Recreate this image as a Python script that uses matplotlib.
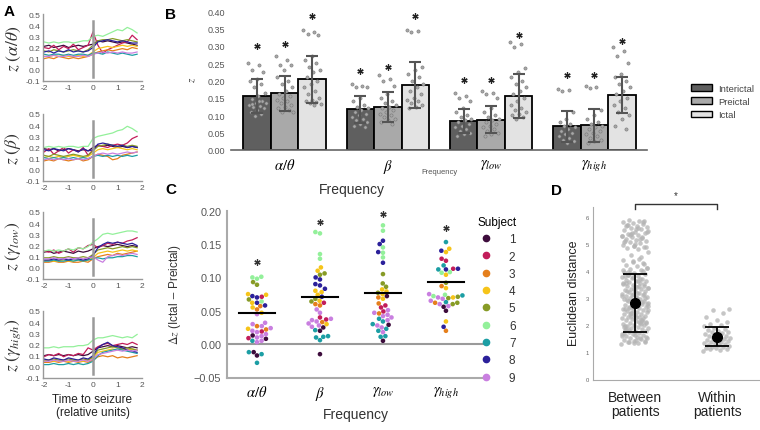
import numpy as np
import pandas as pd
import matplotlib
matplotlib.use("Agg")
import matplotlib.pyplot as plt
from matplotlib.lines import Line2D
from matplotlib.patches import Patch
import seaborn as sns

plt.rcParams['font.family'] = ['Liberation Sans', 'DejaVu Sans']
plt.rcParams['mathtext.fontset'] = 'stix'

# ---------------- data ----------------
subj_colors = ['#3d0c3c', '#c21d5a', '#e57f1c', '#f6c419', '#879b26',
               '#93f09a', '#1c9ea4', '#2b209a', '#c97fe0']
subjects = ['1', '2', '3', '4', '5', '6', '7', '8', '9']

# panel A: mean z per subject over time to seizure
t = [-2.0, -1.8, -1.6, -1.4, -1.2, -1.0, -0.8, -0.6, -0.4, -0.2,
     0.0, 0.2, 0.4, 0.6, 0.8, 1.0, 1.2, 1.4, 1.6, 1.8]

z_alpha = [
    [0.21,0.22,0.20,0.21,0.22,0.20,0.21,0.22,0.21,0.22,0.23,0.26,0.25,0.26,0.25,0.24,0.25,0.24,0.23,0.22],
    [0.20,0.19,0.22,0.18,0.21,0.19,0.23,0.18,0.20,0.22,0.34,0.22,0.15,0.18,0.20,0.22,0.24,0.25,0.31,0.27],
    [0.10,0.11,0.10,0.12,0.11,0.10,0.11,0.10,0.11,0.12,0.14,0.16,0.17,0.18,0.17,0.18,0.19,0.18,0.20,0.19],
    [0.12,0.12,0.13,0.12,0.13,0.12,0.12,0.13,0.12,0.13,0.16,0.19,0.20,0.21,0.20,0.21,0.22,0.21,0.22,0.21],
    [0.17,0.16,0.18,0.17,0.16,0.17,0.18,0.17,0.16,0.18,0.22,0.26,0.27,0.27,0.28,0.27,0.26,0.27,0.26,0.25],
    [0.25,0.24,0.25,0.24,0.25,0.25,0.24,0.25,0.26,0.26,0.30,0.31,0.30,0.32,0.34,0.36,0.35,0.38,0.36,0.33],
    [0.14,0.13,0.14,0.14,0.13,0.14,0.13,0.14,0.14,0.13,0.15,0.15,0.14,0.16,0.15,0.14,0.15,0.14,0.13,0.14],
    [0.16,0.17,0.15,0.17,0.16,0.18,0.16,0.17,0.16,0.17,0.20,0.25,0.26,0.27,0.26,0.25,0.26,0.25,0.24,0.24],
    [0.12,0.12,0.13,0.12,0.12,0.13,0.12,0.12,0.13,0.12,0.14,0.15,0.16,0.15,0.16,0.15,0.16,0.15,0.15,0.16],
]
z_beta = [
    [0.19,0.18,0.19,0.17,0.18,0.19,0.18,0.17,0.18,0.17,0.20,0.22,0.21,0.22,0.21,0.20,0.21,0.20,0.21,0.20],
    [0.16,0.19,0.14,0.17,0.20,0.15,0.18,0.16,0.20,0.13,0.18,0.22,0.21,0.20,0.22,0.23,0.22,0.24,0.28,0.30],
    [0.08,0.09,0.08,0.10,0.09,0.08,0.09,0.10,0.08,0.09,0.12,0.14,0.13,0.12,0.09,0.10,0.13,0.14,0.15,0.16],
    [0.11,0.12,0.11,0.12,0.11,0.12,0.13,0.12,0.11,0.12,0.15,0.18,0.19,0.18,0.19,0.20,0.19,0.18,0.19,0.18],
    [0.13,0.12,0.14,0.13,0.12,0.13,0.14,0.13,0.12,0.13,0.17,0.21,0.22,0.23,0.22,0.21,0.22,0.21,0.22,0.21],
    [0.20,0.21,0.20,0.21,0.20,0.21,0.21,0.20,0.21,0.21,0.28,0.30,0.31,0.32,0.33,0.35,0.36,0.39,0.37,0.34],
    [0.11,0.10,0.11,0.10,0.11,0.10,0.11,0.10,0.11,0.10,0.12,0.13,0.12,0.13,0.12,0.13,0.12,0.13,0.12,0.13],
    [0.18,0.17,0.19,0.18,0.17,0.19,0.18,0.16,0.19,0.17,0.18,0.23,0.24,0.23,0.22,0.21,0.22,0.20,0.21,0.20],
    [0.09,0.10,0.09,0.10,0.09,0.10,0.09,0.10,0.09,0.10,0.12,0.14,0.15,0.14,0.15,0.14,0.15,0.16,0.15,0.16],
]
z_glow = [
    [0.14,0.15,0.13,0.14,0.15,0.14,0.13,0.15,0.14,0.15,0.17,0.19,0.20,0.19,0.20,0.21,0.20,0.19,0.20,0.19],
    [0.15,0.14,0.16,0.13,0.15,0.17,0.14,0.18,0.17,0.20,0.21,0.18,0.20,0.22,0.21,0.23,0.22,0.24,0.25,0.27],
    [0.05,0.05,0.06,0.05,0.05,0.06,0.05,0.05,0.06,0.05,0.08,0.10,0.11,0.12,0.11,0.13,0.12,0.13,0.14,0.15],
    [0.06,0.07,0.06,0.06,0.07,0.06,0.06,0.07,0.06,0.07,0.09,0.13,0.14,0.15,0.14,0.15,0.16,0.15,0.16,0.15],
    [0.09,0.09,0.10,0.09,0.09,0.10,0.09,0.09,0.10,0.09,0.12,0.16,0.17,0.18,0.17,0.18,0.19,0.18,0.19,0.18],
    [0.15,0.16,0.15,0.16,0.15,0.17,0.16,0.18,0.17,0.19,0.23,0.26,0.30,0.31,0.30,0.31,0.32,0.33,0.33,0.32],
    [0.06,0.06,0.07,0.06,0.06,0.07,0.06,0.07,0.06,0.07,0.08,0.09,0.08,0.09,0.09,0.10,0.10,0.11,0.11,0.10],
    [0.07,0.07,0.08,0.07,0.08,0.07,0.08,0.08,0.07,0.08,0.11,0.18,0.21,0.23,0.22,0.23,0.22,0.21,0.22,0.20],
    [0.08,0.08,0.09,0.08,0.08,0.09,0.08,0.09,0.08,0.09,0.10,0.07,0.05,0.10,0.11,0.12,0.11,0.12,0.13,0.12],
]
z_ghigh = [
    [0.10,0.11,0.10,0.11,0.10,0.11,0.10,0.11,0.10,0.11,0.14,0.17,0.18,0.19,0.18,0.19,0.18,0.17,0.18,0.17],
    [0.09,0.11,0.10,0.12,0.09,0.11,0.10,0.12,0.11,0.17,0.15,0.18,0.20,0.21,0.19,0.20,0.21,0.20,0.22,0.20],
    [0.04,0.04,0.05,0.04,0.05,0.04,0.05,0.04,0.05,0.04,0.06,0.09,0.10,0.09,0.10,0.08,0.09,0.08,0.09,0.10],
    [0.05,0.06,0.05,0.05,0.06,0.05,0.06,0.05,0.05,0.06,0.08,0.13,0.14,0.15,0.16,0.15,0.16,0.15,0.16,0.15],
    [0.06,0.06,0.07,0.06,0.06,0.07,0.06,0.06,0.07,0.06,0.09,0.15,0.16,0.17,0.18,0.17,0.16,0.17,0.16,0.15],
    [0.17,0.17,0.18,0.17,0.18,0.18,0.18,0.19,0.19,0.20,0.24,0.26,0.26,0.27,0.28,0.27,0.26,0.27,0.26,0.29],
    [0.02,0.02,0.03,0.02,0.02,0.03,0.02,0.03,0.02,0.03,0.05,0.10,0.13,0.14,0.15,0.16,0.15,0.14,0.13,0.12],
    [0.07,0.06,0.08,0.07,0.06,0.08,0.07,0.06,0.08,0.07,0.10,0.17,0.20,0.22,0.19,0.18,0.17,0.15,0.14,0.13],
    [0.05,0.05,0.06,0.05,0.05,0.06,0.05,0.05,0.06,0.05,0.07,0.11,0.12,0.13,0.14,0.15,0.14,0.15,0.14,0.15],
]
a_labels = [r'$z\ (\alpha/\theta)$', r'$z\ (\beta)$', r'$z\ (\gamma_{low})$', r'$z\ (\gamma_{high})$']

# panel B: bars (mean, sd) and individual values
bands = [r'$\alpha/\theta$', r'$\beta$', r'$\gamma_{low}$', r'$\gamma_{high}$']
phases = ['Interictal', 'Preictal', 'Ictal']
phase_colors = ['#5f5f5f', '#a9a9a9', '#e3e3e3']
b_mean = [[0.155, 0.163, 0.203], [0.117, 0.124, 0.187],
          [0.084, 0.087, 0.156], [0.068, 0.071, 0.158]]
b_sd = [[0.049, 0.050, 0.068], [0.039, 0.044, 0.065],
        [0.034, 0.039, 0.063], [0.045, 0.047, 0.051]]
b_star = [[0.300, 0.305, 0.385], [0.228, 0.238, 0.385],
          [0.201, 0.201, 0.332], [0.217, 0.217, 0.315]]
b_points = [
    [[0.25, 0.245, 0.23, 0.225, 0.205, 0.20, 0.19, 0.18, 0.165, 0.155, 0.148, 0.14, 0.135, 0.13, 0.128, 0.125, 0.12, 0.115, 0.11, 0.105, 0.098, 0.135, 0.14, 0.132],
     [0.27, 0.26, 0.245, 0.245, 0.23, 0.21, 0.20, 0.19, 0.18, 0.17, 0.16, 0.155, 0.15, 0.145, 0.14, 0.135, 0.13, 0.125, 0.12, 0.115, 0.11, 0.108],
     [0.345, 0.34, 0.335, 0.33, 0.27, 0.26, 0.25, 0.24, 0.23, 0.225, 0.21, 0.20, 0.19, 0.18, 0.17, 0.16, 0.15, 0.145, 0.14, 0.138, 0.135, 0.132, 0.13]],
    [[0.19, 0.185, 0.18, 0.18, 0.15, 0.14, 0.13, 0.125, 0.12, 0.115, 0.11, 0.105, 0.10, 0.095, 0.09, 0.085, 0.08, 0.075, 0.07, 0.065],
     [0.215, 0.205, 0.20, 0.185, 0.16, 0.15, 0.14, 0.135, 0.13, 0.125, 0.12, 0.115, 0.11, 0.105, 0.10, 0.095, 0.09, 0.085, 0.08, 0.075],
     [0.345, 0.342, 0.34, 0.24, 0.23, 0.22, 0.21, 0.20, 0.19, 0.18, 0.17, 0.16, 0.15, 0.145, 0.14, 0.135, 0.13, 0.125, 0.12]],
    [[0.165, 0.155, 0.15, 0.14, 0.12, 0.11, 0.10, 0.095, 0.09, 0.085, 0.08, 0.075, 0.07, 0.065, 0.06, 0.055, 0.05, 0.045, 0.04],
     [0.17, 0.165, 0.16, 0.15, 0.12, 0.11, 0.10, 0.095, 0.09, 0.085, 0.08, 0.075, 0.07, 0.065, 0.06, 0.055, 0.05, 0.045, 0.04],
     [0.31, 0.305, 0.295, 0.235, 0.225, 0.21, 0.20, 0.19, 0.18, 0.17, 0.16, 0.15, 0.14, 0.13, 0.12, 0.115, 0.11, 0.105, 0.10, 0.095, 0.09]],
    [[0.175, 0.172, 0.17, 0.11, 0.09, 0.08, 0.075, 0.07, 0.065, 0.06, 0.055, 0.05, 0.045, 0.04, 0.035, 0.03, 0.025, 0.02],
     [0.185, 0.18, 0.178, 0.115, 0.10, 0.09, 0.08, 0.075, 0.07, 0.065, 0.06, 0.055, 0.05, 0.045, 0.04, 0.035, 0.03, 0.025, 0.02],
     [0.295, 0.285, 0.27, 0.25, 0.22, 0.21, 0.20, 0.19, 0.18, 0.17, 0.16, 0.15, 0.14, 0.13, 0.12, 0.11, 0.10, 0.09, 0.07, 0.06]],
]

# panel C: delta z (ictal - preictal) per subject and band
c_vals = {
    0: {'1': [0.013, 0.008, -0.017, -0.012], '2': [0.071, 0.009, 0.019],
        '3': [0.057, 0.027, 0.022, 0.052], '4': [0.075, 0.074, 0.062, 0.055, 0.023, 0.047],
        '5': [0.093, 0.089, 0.067], '6': [0.101, 0.100, 0.098, 0.064],
        '7': [-0.012, -0.015, -0.028, 0.005], '8': [0.072, 0.070, 0.062, 0.058],
        '9': [0.030, 0.027, 0.024, 0.020, 0.018, 0.015, 0.012, 0.010, 0.005, 0.003, 0.045, 0.032]},
    1: {'1': [-0.015, 0.025, 0.020], '2': [0.040, 0.037, 0.062],
        '3': [0.060, 0.058, 0.033], '4': [0.115, 0.110, 0.080, 0.078, 0.074, 0.065, 0.030],
        '5': [0.106, 0.104, 0.068, 0.064], '6': [0.168, 0.166, 0.135, 0.128],
        '7': [0.011, 0.010, 0.006, 0.021, 0.012], '8': [0.100, 0.097, 0.090, 0.088, 0.083, 0.071],
        '9': [0.038, 0.036, 0.034, 0.031, 0.028, 0.026, 0.052, 0.047]},
    2: {'1': [0.005, 0.029, 0.072], '2': [0.058, 0.055, 0.049],
        '3': [0.061, 0.046, 0.070], '4': [0.082, 0.079, 0.075, 0.068],
        '5': [0.105, 0.091, 0.086, 0.077], '6': [0.178, 0.170, 0.145, 0.137, 0.130],
        '7': [0.038, 0.034, 0.030, 0.020, 0.012, 0.011, 0.023], '8': [0.155, 0.150, 0.138, 0.122],
        '9': [0.047, 0.042, 0.040, 0.036, 0.028, 0.025, 0.018, 0.044, 0.051]},
    3: {'1': [0.056, 0.050], '2': [0.128, 0.125, 0.113],
        '3': [0.087, 0.062, 0.020], '4': [0.143, 0.138, 0.104, 0.084, 0.070, 0.034],
        '5': [0.092, 0.071, 0.069, 0.062, 0.060], '6': [0.108, 0.107, 0.074, 0.072],
        '7': [0.153, 0.118, 0.112, 0.073, 0.063], '8': [0.140, 0.113, 0.112, 0.026],
        '9': [0.075, 0.070, 0.068, 0.065, 0.060, 0.057]},
}
c_mean = [0.046, 0.070, 0.076, 0.093]
c_star = [0.123, 0.183, 0.195, 0.174]

# panel D: euclidean distances
d_between = [1.30, 1.33, 1.36, 1.38, 1.42, 1.44, 1.47, 1.51, 1.53, 1.57, 1.60, 1.62, 1.66, 1.68,
             1.71, 1.74, 1.77, 1.79, 1.82, 1.85, 1.88, 1.90, 1.93, 1.96, 1.99, 2.01, 2.04, 2.07,
             2.09, 2.12, 2.15, 2.17, 2.20, 2.23, 2.25, 2.28, 2.31, 2.33, 2.36, 2.39, 2.41, 2.44,
             2.47, 2.49, 2.52, 2.55, 2.57, 2.60, 2.63, 2.65, 2.68, 2.71, 2.73, 2.76, 2.79, 2.81,
             2.84, 2.87, 2.89, 2.92, 2.95, 2.97, 3.00, 3.03, 3.05, 3.08, 3.11, 3.13, 3.16, 3.19,
             3.21, 3.24, 3.27, 3.29, 3.32, 3.35, 3.37, 3.40, 3.43, 3.46, 3.49, 3.52, 3.55, 3.58,
             3.61, 3.64, 3.67, 3.71, 3.74, 3.78, 3.81, 3.85, 3.89, 3.93, 3.97, 4.02, 4.07, 4.12,
             4.17, 4.22, 4.28, 4.34, 4.41, 4.45, 1.35, 1.55, 1.75, 1.95, 2.14, 2.34, 2.54, 2.74,
             2.94, 3.14, 3.34, 3.54, 3.72, 3.92, 4.10, 1.46, 1.86, 2.26, 2.66, 3.06, 3.46, 3.86,
             1.40, 1.64, 1.91, 2.19, 2.44, 2.70, 2.98, 3.25, 3.51, 3.79, 4.05, 1.50, 1.81, 2.06,
             2.30, 2.58, 2.86, 3.10, 3.38, 3.63, 3.95, 4.25, 1.32, 1.69, 2.02, 2.39, 2.77, 3.18,
             3.57, 3.99, 4.38, 1.58, 2.11, 2.62, 3.01, 3.44, 3.83,
             4.52, 4.61, 4.70, 4.82, 4.86, 4.90, 4.94, 4.98, 5.02, 5.06, 5.10, 5.14, 5.18, 5.22,
             5.26, 5.30, 5.34, 5.38, 5.42, 5.46, 5.50, 5.54, 5.58, 5.62, 5.66, 5.70, 5.74, 5.78,
             5.82, 5.86, 5.90, 4.88, 5.00, 5.12, 5.24, 5.36, 5.48, 5.60, 5.72, 5.84, 4.92, 5.08,
             5.20, 5.32, 5.44, 5.56, 5.68, 5.80, 5.40, 5.28]
d_within = [1.05, 1.08, 1.10, 1.12, 1.14, 1.16, 1.18, 1.20, 1.22, 1.24, 1.26, 1.28, 1.30,
            1.32, 1.35, 1.37, 1.40, 1.42, 1.45, 1.47, 1.50, 1.52, 1.55, 1.58, 1.60, 1.63,
            1.66, 1.69, 1.72, 1.75, 1.78, 1.82, 1.86, 1.90, 1.95, 2.00, 2.05, 2.12, 2.20,
            2.30, 2.45, 2.55, 2.60]
d_groups = ['Between\npatients', 'Within\npatients']
d_mean = [2.81, 1.57]
d_low = [1.75, 1.21]
d_high = [3.87, 1.94]


def spread(n, width):
    # deterministic horizontal spread for strip points
    return (np.arange(n) * 0.6180339887 % 1 - 0.5) * width


fig = plt.figure(figsize=(7.6, 4.31), dpi=100)
W, H = 760.0, 431.0

# ---------------- panel A ----------------
a_bottoms = [82, 182, 280, 379]
a_data = [z_alpha, z_beta, z_glow, z_ghigh]
for i in range(4):
    ax = fig.add_axes([43 / W, 1 - a_bottoms[i] / H, 99 / W, 67 / H])
    for s in range(9):
        ax.plot(t, a_data[i][s], color=subj_colors[s], lw=0.9)
    ax.axvline(0, ymin=0.058, ymax=0.9, color='#9a9a9a', lw=1.8)
    ax.set_xlim(-2.04, 2.0)
    ax.set_ylim(-0.1, 0.5)
    ax.set_yticks([-0.1, 0.0, 0.1, 0.2, 0.3, 0.4, 0.5])
    ax.set_yticklabels(['-0.1', '0.0', '0.1', '0.2', '0.3', '0.4', '0.5'])
    ax.set_xticks([-2, -1, 0, 1, 2])
    ax.set_xticklabels(['-2', '-1', '0', '1', '2'])
    ax.tick_params(length=0, labelsize=6, colors='#555555', pad=2)
    for sp in ['top', 'right']:
        ax.spines[sp].set_visible(False)
    for sp in ['left', 'bottom']:
        ax.spines[sp].set_color('#999999')
        ax.spines[sp].set_linewidth(1.0)
    ax.set_ylabel(a_labels[i], fontsize=12.5, color='#333333')
    ax.yaxis.set_label_coords(-0.2, 0.5)
    if i == 3:
        ax.set_xlabel('Time to seizure\n(relative units)', fontsize=8.5,
                      color='#222222', labelpad=4, linespacing=1.1)

# ---------------- panel B ----------------
axb = fig.add_axes([231 / W, 1 - 151 / H, 416 / W, 139 / H])
bw = 0.267
for g in range(4):
    for k in range(3):
        x = g + (k - 1) * bw
        axb.bar(x, b_mean[g][k], width=bw, color=phase_colors[k],
                edgecolor='black', lw=1.3, zorder=2)
        pts = b_points[g][k]
        axb.plot(x + spread(len(pts), 0.17), pts, 'o', ms=2.3, mfc='#a8a8a8',
                 mec='#777777', mew=0.4, zorder=3)
        axb.errorbar(x, b_mean[g][k], yerr=b_sd[g][k], color='#555555',
                     lw=1.5, capsize=4, capthick=1.5, zorder=4)
        axb.plot(x, b_star[g][k], marker=(6, 2, 0), ms=4.5, mew=0.9,
                 color='#222222', zorder=4)
axb.set_xlim(-0.52, 3.51)
axb.set_ylim(0, 0.40)
axb.set_yticks([0, 0.05, 0.10, 0.15, 0.20, 0.25, 0.30, 0.35, 0.40])
axb.set_yticklabels(['0.00', '0.05', '0.10', '0.15', '0.20', '0.25', '0.30', '0.35', '0.40'])
axb.set_xticks([0, 1, 2, 3])
axb.set_xticklabels(bands, fontsize=10.5)
axb.tick_params(axis='y', length=0, labelsize=6.5, colors='#555555', pad=4)
axb.tick_params(axis='x', length=0, pad=5)
for sp in ['top', 'right', 'left']:
    axb.spines[sp].set_visible(False)
axb.spines['bottom'].set_color('#666666')
axb.spines['bottom'].set_linewidth(1.2)
axb.set_ylabel(r'$z$', fontsize=8, color='#333333')
axb.yaxis.set_label_coords(-0.08, 0.51)
fig.text(440 / W, 1 - 173 / H, 'Frequency', fontsize=5.5, color='#555555',
         ha='center', va='center')
axb.legend(handles=[Patch(facecolor=c, edgecolor='black', lw=1.0) for c in phase_colors],
           labels=phases, loc='upper left', bbox_to_anchor=(686 / W, 1 - 80 / H),
           bbox_transform=fig.transFigure, frameon=False, fontsize=6.8,
           handlelength=2.3, handleheight=0.7, labelspacing=0.45,
           handletextpad=0.6, borderpad=0, labelcolor='#444444')

# ---------------- panel C ----------------
rows = []
for g in range(4):
    for s in subjects:
        for v in c_vals[g][s]:
            rows.append((g, s, v))
df_c = pd.DataFrame(rows, columns=['band', 'subject', 'dz'])

axc = fig.add_axes([227 / W, 1 - 378.5 / H, 258 / W, 166.8 / H])
axc.axhline(0, color='#9a9a9a', lw=1.5, zorder=1)
sns.swarmplot(data=df_c, x='band', y='dz', hue='subject', hue_order=subjects,
              palette=dict(zip(subjects, subj_colors)), size=3.3, ax=axc,
              legend=False, linewidth=0, zorder=3)
for g in range(4):
    axc.plot([g - 0.28, g + 0.28], [c_mean[g], c_mean[g]], color='black', lw=1.5, zorder=4)
    axc.plot(g, c_star[g], marker=(6, 2, 0), ms=4.5, mew=0.9, color='#333333')
axc.set_xlim(-0.476, 3.62)
axc.set_ylim(-0.05, 0.20)
axc.set_yticks([-0.05, 0.0, 0.05, 0.10, 0.15, 0.20])
axc.set_yticklabels(['\u22120.05', '0.00', '0.05', '0.10', '0.15', '0.20'])
axc.set_xticks([0, 1, 2, 3])
axc.set_xticklabels(bands, fontsize=10.5)
axc.tick_params(axis='y', length=0, labelsize=7.8, colors='#555555', pad=4)
axc.tick_params(axis='x', length=0, pad=5)
for sp in ['top', 'right']:
    axc.spines[sp].set_visible(False)
for sp in ['left', 'bottom']:
    axc.spines[sp].set_color('#aaaaaa')
    axc.spines[sp].set_linewidth(1.5)
axc.set_xlabel('Frequency', fontsize=10, color='#333333', labelpad=3)
axc.set_ylabel(r'$\Delta z$ (Ictal $-$ Preictal)', fontsize=8.5, color='#333333')
axc.yaxis.set_label_coords(-0.17, 0.5)
fig.text(352 / W, 1 - 190 / H, 'Frequency', fontsize=10, color='#333333',
         ha='center', va='center')
axc.legend(handles=[Line2D([], [], marker='o', ls='', ms=4.5, color=c) for c in subj_colors],
           labels=subjects, title='Subject', loc='upper left',
           bbox_to_anchor=(472 / W, 1 - 211 / H), bbox_transform=fig.transFigure,
           frameon=False, fontsize=8.5, title_fontsize=8.5, handlelength=1.2,
           handletextpad=1.3, labelspacing=0.45, borderpad=0, labelcolor='#333333')

# ---------------- panel D ----------------
axd = fig.add_axes([593 / W, 1 - 381 / H, 167 / W, 173 / H])
d_sets = [d_between, d_within]
for i in range(2):
    vals = d_sets[i]
    axd.plot(i + spread(len(vals), 0.33), vals, 'o', ms=3.3, color='#b4b4b4',
             alpha=0.75, mew=0, zorder=2)
    axd.errorbar(i, d_mean[i], yerr=[[d_mean[i] - d_low[i]], [d_high[i] - d_mean[i]]],
                 fmt='o', ms=7, color='black', lw=1.3, capsize=8.5, capthick=1.3, zorder=3)
axd.plot([0, 0, 1, 1], [6.30, 6.48, 6.48, 6.30], color='#333333', lw=1.0, clip_on=False)
axd.text(0.5, 6.62, '*', fontsize=7, ha='center', va='bottom', color='#333333')
axd.set_xlim(-0.512, 1.524)
axd.set_ylim(-0.04, 6.37)
axd.set_yticks([0, 1, 2, 3, 4, 5, 6])
axd.set_xticks([0, 1])
axd.set_xticklabels(d_groups, fontsize=10, color='#222222', linespacing=1.05)
axd.tick_params(axis='y', length=0, labelsize=4.2, colors='#666666', pad=3)
axd.tick_params(axis='x', length=0, pad=7)
for sp in ['top', 'right']:
    axd.spines[sp].set_visible(False)
for sp in ['left', 'bottom']:
    axd.spines[sp].set_color('#aaaaaa')
    axd.spines[sp].set_linewidth(0.8)
axd.set_ylabel('Euclidean distance', fontsize=9, color='#222222')
axd.yaxis.set_label_coords(-0.08, 0.51)

# panel letters
for lbl, x, y in [('A', 9, 12), ('B', 171, 15), ('C', 171, 190), ('D', 557, 191)]:
    fig.text(x / W, 1 - y / H, lbl, fontsize=11, fontweight='bold',
             ha='center', va='center')

fig.savefig('out.png', dpi=100)
